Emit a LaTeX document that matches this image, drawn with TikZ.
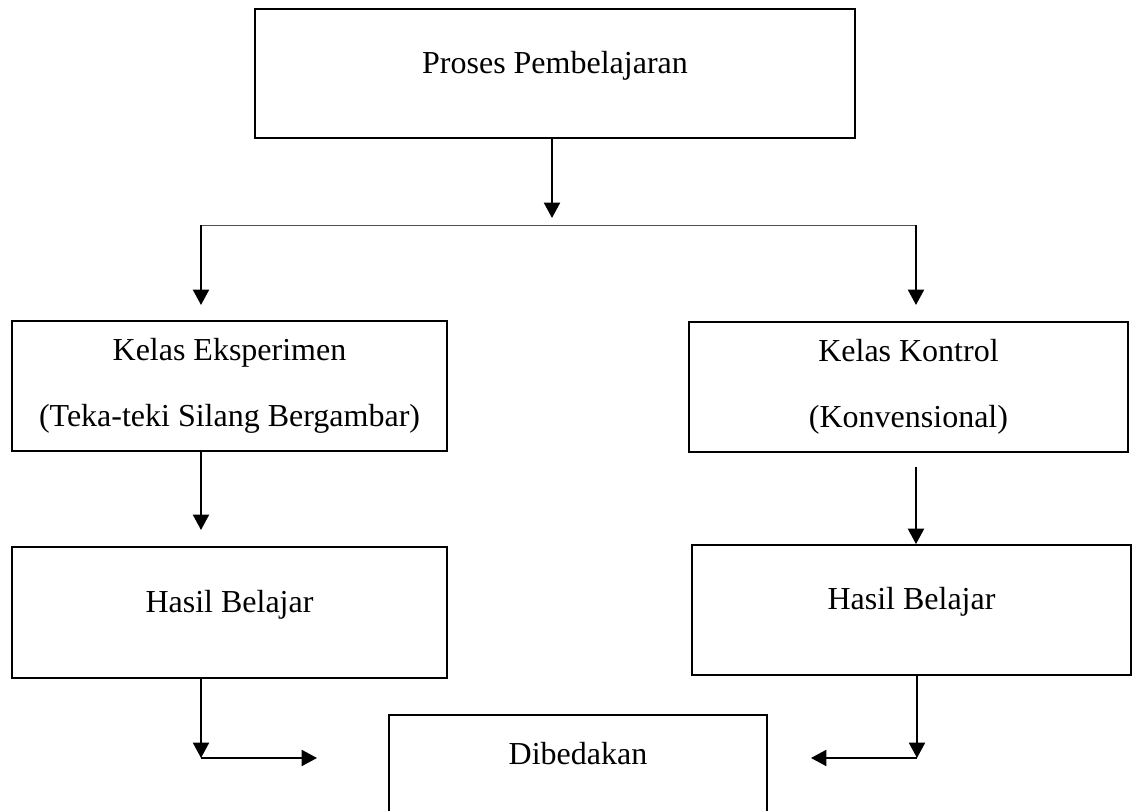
\documentclass[tikz,border=0pt]{standalone}
\usepackage{fontspec}
\setmainfont{Liberation Serif}
\usepackage{tikz}
\usetikzlibrary{positioning,calc,arrows.meta}
\definecolor{linegray}{RGB}{80,80,80}

\begin{document}
\begin{tikzpicture}[line width=1.3pt,
  kotak/.style={draw,rectangle,inner sep=0pt,align=center,font=\fontsize{22.76pt}{46.9pt}\selectfont},
  satu/.style={text height=2mm,text depth=2mm},
  panah/.style={-{Triangle[length=11pt,width=11.5pt]},line width=1.4pt}]
  \useasboundingbox (0,0) rectangle (28.4,20.275);
  % boxes
  \node[kotak,satu,minimum width=15cm,minimum height=3.225cm] (proses) at (13.875,18.4375){Proses Pembelajaran};
  \node[kotak,minimum width=10.875cm,minimum height=3.25cm] (eks) at (5.7375,10.625){Kelas Eksperimen\\(Teka-teki Silang Bergambar)};
  \node[kotak,minimum width=10.975cm,minimum height=3.25cm] (kon) at (22.7125,10.6){Kelas Kontrol\\(Konvensional)};
  \node[kotak,satu,minimum width=10.875cm,minimum height=3.275cm] (hasilA) at (5.7375,4.9625){Hasil Belajar};
  \node[kotak,satu,minimum width=10.975cm,minimum height=3.25cm] (hasilB) at (22.7875,5.025){Hasil Belajar};
  \node[kotak,satu,minimum width=9.45cm,minimum height=2.5cm] (beda) at (14.45,1.15){Dibedakan};
  % branch
  \coordinate (ujung) at (13.8,14.825);
  \coordinate (cabkiri) at (5.025,14.6375);
  \coordinate (cabkanan) at (22.9,14.6375);
  \draw[panah] (proses.south -| ujung) -- (ujung);
  \draw[linegray,line width=0.9pt] (cabkiri) -- (cabkanan);
  \draw[panah] (cabkiri) -- ++(0,-1.9875) coordinate (tkiri);
  \draw[panah] (cabkanan) -- ++(0,-1.9875) coordinate (tkanan);
  % to results
  \coordinate (tA) at (5.025,7.025);
  \coordinate (mB) at (22.9,8.6);
  \draw[panah] (eks.south -| tA) -- (tA);
  \draw[panah] (mB) -- (hasilB.north -| mB);
  % to comparison
  \coordinate (sudutA) at (5.025,1.325);
  \coordinate (sudutB) at (22.925,1.325);
  \draw[panah] (hasilA.south -| sudutA) -- (sudutA);
  \draw[panah] (sudutA) -- ++(2.9,0) coordinate (kiriBeda);
  \draw[panah] (hasilB.south -| sudutB) -- (sudutB);
  \draw[panah] (sudutB) -- ++(-2.65,0) coordinate (kananBeda);
\end{tikzpicture}
\end{document}
